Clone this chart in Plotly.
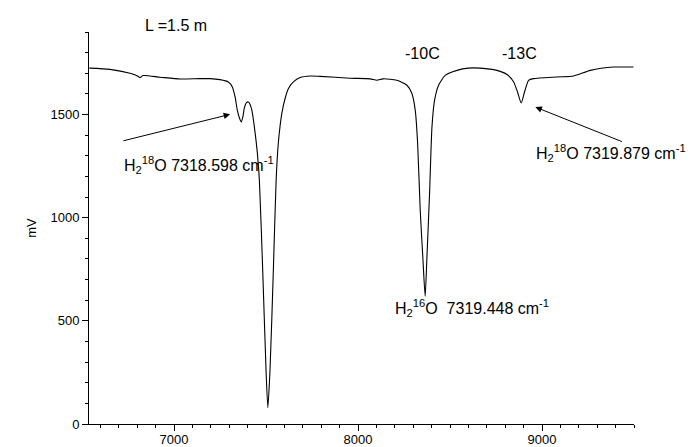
import plotly.graph_objects as go

# Spectrum trace (wavenumber-ish axis units, mV)
x_vals = [6540, 6652, 6761, 6804, 6815, 6831, 6924, 7033, 7141, 7196, 7250, 7295, 7317, 7332,
          7344, 7356, 7366, 7375, 7382, 7393, 7404, 7413, 7423, 7441, 7453, 7464, 7482, 7500,
          7510, 7522, 7540, 7555, 7567, 7586, 7604, 7622, 7649, 7685, 7740, 7794, 7957, 8066,
          8103, 8137, 8211, 8266, 8293, 8311, 8324, 8338, 8353, 8365, 8374, 8389, 8402, 8416,
          8438, 8474, 8538, 8599, 8664, 8755, 8810, 8846, 8867, 8887, 8905, 8927, 8954, 9081,
          9172, 9263, 9389, 9497]
y_vals = [1725, 1719, 1700, 1686, 1678, 1689, 1681, 1672, 1674, 1674, 1669, 1658, 1634, 1585,
          1521, 1482, 1464, 1492, 1531, 1557, 1561, 1550, 1521, 1410, 1313, 1182, 748, 265,
          79, 265, 748, 1182, 1362, 1506, 1579, 1626, 1658, 1679, 1687, 1685, 1676, 1673,
          1666, 1673, 1666, 1642, 1602, 1521, 1361, 1038, 796, 619, 796, 1120, 1440, 1569,
          1642, 1690, 1714, 1725, 1725, 1714, 1694, 1658, 1609, 1556, 1609, 1666, 1674, 1682,
          1687, 1714, 1730, 1730]

# Text labels
title_text = "L =1.5 m"
title_x = 7011
temp_labels = ["-10C", "-13C"]
temp_x = [8353, 8877]
temp_y = [1796, 1796]
line_labels = ["H<sub>2</sub><sup>18</sup>O 7318.598 cm<sup>-1</sup>",
               "H<sub>2</sub><sup>16</sup>O  7319.448 cm<sup>-1</sup>",
               "H<sub>2</sub><sup>18</sup>O 7319.879 cm<sup>-1</sup>"]
line_label_x = [6717, 8190, 8958]
line_label_y = [1255, 564, 1313]
# arrows: (tail x, tail y, head x, head y)
arrows = [(6717, 1371, 7305, 1501), (9442, 1366, 8964, 1536)]

FONT = "Liberation Sans, Arial, sans-serif"

fig = go.Figure()
fig.add_trace(go.Scatter(x=x_vals, y=y_vals, mode="lines",
                         line=dict(color="black", width=1.1, shape="spline", smoothing=0.6),
                         showlegend=False, hoverinfo="skip"))

ann = []
# title above the plot area (x in data units, y in paper units so it is not hidden)
ann.append(dict(x=title_x, y=1.0, xref="x", yref="paper", xanchor="center", yanchor="middle",
                yshift=7, text=title_text, showarrow=False,
                font=dict(size=16, color="black", family=FONT)))
for t, xx, yy in zip(temp_labels, temp_x, temp_y):
    ann.append(dict(x=xx, y=yy, xref="x", yref="y", text=t, showarrow=False,
                    font=dict(size=16, color="black", family=FONT)))
for t, xx, yy in zip(line_labels, line_label_x, line_label_y):
    ann.append(dict(x=xx, y=yy, xref="x", yref="y", text=t, showarrow=False,
                    xanchor="left", yanchor="middle",
                    font=dict(size=16, color="black", family=FONT)))
for tx, ty, hx, hy in arrows:
    ann.append(dict(x=hx, y=hy, ax=tx, ay=ty, xref="x", yref="y", axref="x", ayref="y",
                    text="", showarrow=True, arrowhead=2, arrowsize=1.3, arrowwidth=1,
                    arrowcolor="black"))

fig.update_layout(
    width=691, height=447,
    margin=dict(l=89, r=57, t=32, b=23),
    plot_bgcolor="white", paper_bgcolor="white",
    font=dict(family=FONT, size=13, color="black"),
    annotations=ann,
    xaxis=dict(range=[6538, 9500], showgrid=False, zeroline=False, automargin=False,
               showline=True, linecolor="black", linewidth=1,
               ticks="outside", ticklen=6, tickcolor="black", tickwidth=1,
               tick0=7000, dtick=1000, tickfont=dict(size=13), ticklabelstandoff=-3,
               minor=dict(ticks="outside", ticklen=3, tickcolor="black", dtick=100, tick0=7000)),
    yaxis=dict(range=[0, 1900], showgrid=False, zeroline=False, automargin=False,
               showline=True, linecolor="black", linewidth=1,
               ticks="outside", ticklen=6, tickcolor="black", tickwidth=1,
               tick0=0, dtick=500, tickfont=dict(size=13),
               minor=dict(ticks="outside", ticklen=3, tickcolor="black", dtick=100, tick0=0),
               title=dict(text="mV", font=dict(size=13), standoff=10)),
)

fig.write_html("out.html", config={"displayModeBar": False},
               post_script="document.body.style.margin='0px';")
